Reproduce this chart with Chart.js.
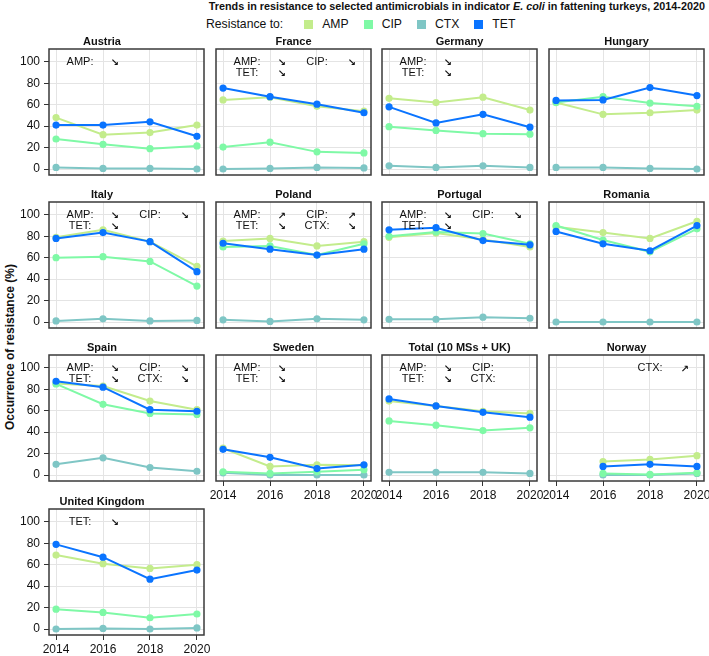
<!DOCTYPE html>
<html>
<head>
<meta charset="utf-8">
<script src="https://cdn.jsdelivr.net/npm/chart.js@4.4.1/dist/chart.umd.min.js"></script>
<style>
  body { margin: 0; background: #fff; font-family: "Liberation Sans", Arial, sans-serif; }
  #wrap { position: relative; width: 709px; height: 656px; overflow: hidden; }
  .panel { position: absolute; }
  #title { position: absolute; top: 0; right: 4px; font-size: 10.8px; font-weight: bold; color: #111; white-space: nowrap; }
  #legend { position: absolute; top: 17px; left: 206px; font-size: 12.2px; color: #111; white-space: nowrap; display: flex; align-items: center; }
  #legend .sw { display: inline-block; width: 9px; height: 9px; margin-right: 9px; }
  #legend .lab { margin-right: 15px; }
  #ylab { position: absolute; left: 10px; top: 347px; transform: translate(-50%, -50%) rotate(-90deg);
          font-size: 12px; font-weight: bold; color: #111; white-space: nowrap; }
</style>
</head>
<body>
<div id="wrap">
  <div id="title">Trends in resistance to selected antimicrobials in indicator <i>E. coli</i> in fattening turkeys, 2014-2020</div>
  <div id="legend"></div>
  <div id="ylab">Occurrence of resistance (%)</div>
</div>
<script>
// data
const years = [2014, 2016, 2018, 2020];
const yTicks = [0, 20, 40, 60, 80, 100];
const drugs = ["AMP", "CIP", "CTX", "TET"];
const drugColors = ["#c3ec8c", "#7ff9a6", "#7fc6c5", "#0a74ff"];

const countries = ["Austria", "France", "Germany", "Hungary",
                   "Italy", "Poland", "Portugal", "Romania",
                   "Spain", "Sweden", "Total (10 MSs + UK)", "Norway",
                   "United Kingdom"];

const ampValues = [
  [48, 32, 34, 41], [64.5, 67, 58.5, 54], [66, 62, 67, 55], [62, 51, 52.5, 55],
  [79, 86, 75, 52], [75.5, 78, 71, 75], [79, 83, 77, 70], [89, 83.5, 78, 94],
  [85.5, 83, 69, 61], [25, 8, 9.5, 9], [69, 64.5, 59.5, 57.5], [null, 12.5, 14.5, 18],
  [69, 61, 56.5, 60]
];
const cipValues = [
  [28, 23, 19, 21.5], [20.5, 25, 16, 15], [39.5, 36, 33, 32.5], [62, 67.5, 61.5, 58.5],
  [60, 61, 56.5, 33.5], [70, 71, 62.5, 73], [80, 84, 82.5, 73], [90, 76.5, 65.5, 87],
  [85, 66, 57.5, 56.5], [3, 1.5, 3, 5], [50.5, 46.5, 41.5, 44], [null, 1.5, 0.5, 2],
  [18.5, 15.5, 10.5, 14]
];
const ctxValues = [
  [1.5, 0.5, 0.5, 0], [0, 0.5, 1.5, 1], [3, 1.5, 3, 1.5], [1.5, 1.5, 0.5, 0],
  [1, 3, 1, 1.5], [2, 0.5, 3, 2], [2.5, 2.5, 4.5, 3.5], [0, 0, 0, 0],
  [10, 16, 7, 3.5], [2, 0, 0, 0], [2.5, 2.5, 2.5, 1.5], [null, 0, 0, 1.5],
  [0, 0.5, 0, 1]
];
const tetValues = [
  [41, 41, 44, 30.5], [75.5, 67.5, 60.5, 52.5], [58, 43, 51, 39], [64, 64.5, 76, 68.5],
  [78, 83.5, 75, 47], [73.5, 68, 62.5, 68], [86, 88, 76, 72], [84.5, 73, 66.5, 90],
  [87.5, 82, 61, 59.5], [24, 16.5, 6, 9.5], [71, 64.5, 58.5, 54], [null, 8, 10, 8],
  [79, 67, 46.5, 55]
];

// trend notes: [label, arrow, column, row]
const trendNotes = [
  [["AMP:", "↘", 0, 0]],
  [["AMP:", "↘", 0, 0], ["TET:", "↘", 0, 1], ["CIP:", "↘", 1, 0]],
  [["AMP:", "↘", 0, 0], ["TET:", "↘", 0, 1]],
  [],
  [["AMP:", "↘", 0, 0], ["TET:", "↘", 0, 1], ["CIP:", "↘", 1, 0]],
  [["AMP:", "↗", 0, 0], ["TET:", "↘", 0, 1], ["CIP:", "↗", 1, 0], ["CTX:", "↘", 1, 1]],
  [["AMP:", "↘", 0, 0], ["TET:", "↘", 0, 1], ["CIP:", "↘", 1, 0]],
  [],
  [["AMP:", "↘", 0, 0], ["TET:", "↘", 0, 1], ["CIP:", "↘", 1, 0], ["CTX:", "↘", 1, 1]],
  [["AMP:", "↘", 0, 0], ["TET:", "↘", 0, 1]],
  [["AMP:", "↘", 0, 0], ["TET:", "↘", 0, 1], ["CIP:", "", 1, 0], ["CTX:", "", 1, 1]],
  [["CTX:", "↗", 1, 0]],
  [["TET:", "↘", 0, 0]]
];

const seriesByDrug = [ampValues, cipValues, ctxValues, tetValues];

// layout of the panel grid
const colLeft = [49, 216, 382, 549];
const rowTop = [49, 202, 355, 509];
const boxW = 155, boxH = 126, titleH = 16;
const FONT = "'Liberation Sans', Arial, sans-serif";

// legend
const legend = document.getElementById("legend");
let html = '<span style="margin-right:21px">Resistance to:</span>';
drugs.forEach((d, i) => {
  html += '<span class="sw" style="background:' + drugColors[i] + '"></span><span class="lab">' + d + '</span>';
});
legend.innerHTML = html;

// border + trend notes
const panelDecor = {
  id: "panelDecor",
  afterDraw(chart, args, opts) {
    const a = chart.chartArea;
    const ctx = chart.ctx;
    ctx.save();
    ctx.strokeStyle = "#3a3a3a";
    ctx.lineWidth = 1.5;
    ctx.strokeRect(a.left, a.top, a.right - a.left, a.bottom - a.top);
    ctx.fillStyle = "#111";
    ctx.textBaseline = "middle";
    (opts.notes || []).forEach(n => {
      const lx = a.left + (n[2] === 0 ? 31 : 101);
      const ax = a.left + (n[2] === 0 ? 66 : 136);
      const y = a.top + 13 + n[3] * 11;
      ctx.font = "11px " + FONT;
      ctx.textAlign = "center";
      ctx.fillText(n[0], lx, y);
      if (n[1]) {
        ctx.font = "bold 10px 'DejaVu Sans', sans-serif";
        ctx.fillText(n[1], ax, y + 1);
      }
    });
    ctx.restore();
  }
};

const bottomPanels = [9, 10, 11, 12];

countries.forEach((name, idx) => {
  const col = idx % 4, row = Math.floor(idx / 4);
  const isLeft = col === 0;
  const isBottom = bottomPanels.includes(idx);
  const padL = isLeft ? 0 : 8;
  const axisW = isLeft ? 49 : 0;
  const axisH = isBottom ? 22 : 0;
  const padB = isBottom ? 0 : 2;

  const div = document.createElement("div");
  div.className = "panel";
  const w = padL + axisW + boxW + 8;
  const h = titleH + boxH + axisH + padB;
  div.style.left = (colLeft[col] - axisW - padL) + "px";
  div.style.top = (rowTop[row] - titleH) + "px";
  div.style.width = w + "px";
  div.style.height = h + "px";
  const canvas = document.createElement("canvas");
  div.appendChild(canvas);
  document.getElementById("wrap").appendChild(div);

  const datasets = drugs.map((d, i) => ({
    label: d,
    data: years.map((yr, k) => ({ x: yr, y: seriesByDrug[i][idx][k] })),
    borderColor: drugColors[i],
    backgroundColor: drugColors[i],
    borderWidth: 2,
    pointRadius: 2.6,
    pointHoverRadius: 2.6,
    order: d === "TET" ? 0 : (d === "CIP" ? 1 : (d === "AMP" ? 2 : 3))
  }));

  new Chart(canvas, {
    type: "line",
    data: { datasets: datasets },
    options: {
      responsive: true,
      maintainAspectRatio: false,
      animation: false,
      layout: { autoPadding: false, padding: { left: padL, right: 8, top: 0, bottom: padB } },
      plugins: {
        legend: { display: false },
        tooltip: { enabled: false },
        title: {
          display: true,
          text: name,
          color: "#111",
          font: { family: FONT, size: 11, weight: "bold", lineHeight: "13px" },
          padding: { top: 2, bottom: 1 }
        },
        panelDecor: { notes: trendNotes[idx] }
      },
      scales: {
        x: {
          type: "linear",
          min: 2013.7,
          max: 2020.3,
          afterBuildTicks: s => { s.ticks = years.map(v => ({ value: v })); },
          afterFit: s => { s.height = axisH; s.paddingLeft = 0; s.paddingRight = 0; },
          border: { display: false },
          grid: { color: "#e4e4e4", lineWidth: 1, drawTicks: isBottom, tickLength: 5, tickColor: "#333" },
          ticks: {
            display: isBottom,
            color: "#111",
            padding: 2,
            font: { family: FONT, size: 12 },
            callback: v => String(v)
          }
        },
        y: {
          min: -5.6,
          max: 112,
          afterBuildTicks: s => { s.ticks = yTicks.map(v => ({ value: v })); },
          afterFit: s => { s.width = axisW; s.paddingTop = 0; s.paddingBottom = 0; },
          border: { display: false },
          grid: { color: "#e4e4e4", lineWidth: 1, drawTicks: isLeft, tickLength: 5, tickColor: "#333" },
          ticks: {
            display: isLeft,
            color: "#111",
            padding: 4,
            font: { family: FONT, size: 12 },
            callback: v => String(v)
          }
        }
      }
    },
    plugins: [panelDecor]
  });
});
</script>
</body>
</html>
